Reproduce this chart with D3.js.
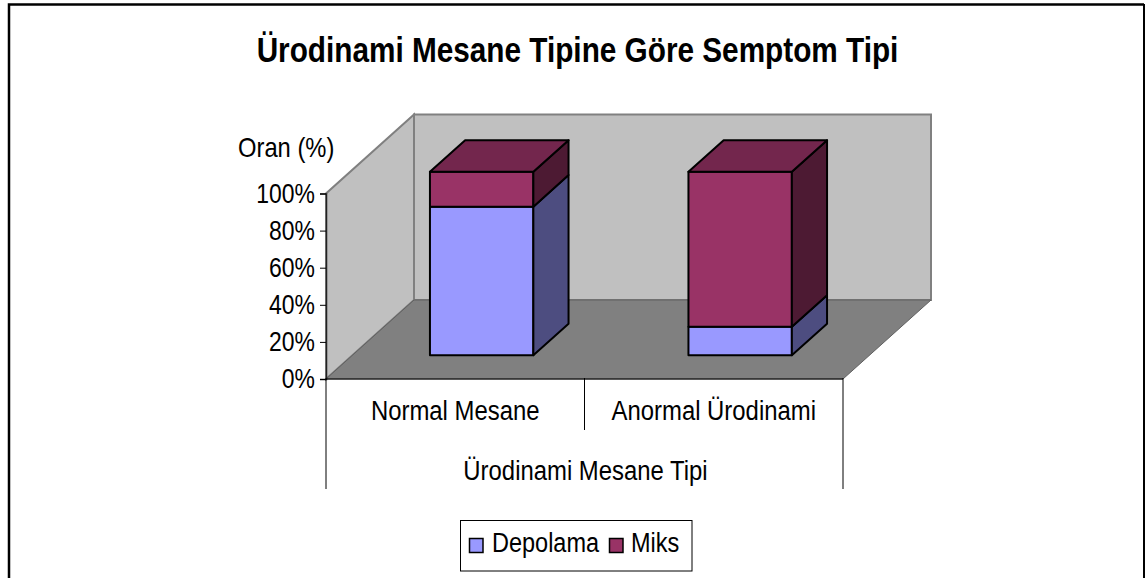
<!DOCTYPE html>
<html>
<head>
<meta charset="utf-8">
<script src="https://cdnjs.cloudflare.com/ajax/libs/d3/7.8.5/d3.min.js"></script>
<style>
  html, body { margin: 0; padding: 0; background: #fff; }
  svg { display: block; }
  text { font-family: "Liberation Sans", Arial, sans-serif; fill: #000; }
</style>
</head>
<body>
<div id="chart"></div>
<script>
var title = "Ürodinami Mesane Tipine Göre Semptom Tipi";
var yTitle = "Oran (%)";
var xTitle = "Ürodinami Mesane Tipi";
var categories = ["Normal Mesane", "Anormal Ürodinami"];
var seriesNames = ["Depolama", "Miks"];
var depolama = [81, 15.5];
var miks = [19, 84.5];
var yTicks = [0, 20, 40, 60, 80, 100];

var colors = {
    Depolama: {front: "#9999FF", side: "#4D4D80", top: "#73739F"},
    Miks: {front: "#993366", side: "#4D1A33", top: "#73264D"}
};

var svg = d3.select("#chart").append("svg")
    .attr("width", 1145)
    .attr("height", 578);

// outer frame, there is no bottom edge in the picture
svg.append("path")
    .attr("d", "M9,578V4.5H1144")
    .attr("fill", "none")
    .attr("stroke", "#000")
    .attr("stroke-width", 2.5);
svg.append("rect").attr("x", 1143).attr("y", 4).attr("width", 2).attr("height", 574).attr("fill", "#000");

var x = d3.scaleLinear().domain([0, 2]).range([326, 843]);
var y = d3.scaleLinear().domain([0, 100]).range([379, 193.5]);
// the bars stop a little under the 100% line in the original
var barY = d3.scaleLinear().domain([0, 100]).range([379, 195.5]);
// depth goes from 0 (front of floor) to 1 (back wall)
var depthX = d3.scaleLinear().domain([0, 1]).range([0, 88]);
var depthY = d3.scaleLinear().domain([0, 1]).range([0, -79]);

function pt(cx, v, d) {
    return [x(cx) + depthX(d), y(v) + depthY(d)];
}
function barPt(cx, v, d) {
    return [x(cx) + depthX(d), barY(v) + depthY(d)];
}
function poly(points) {
    return "M" + points.map(function (p) { return p.join(","); }).join("L") + "Z";
}

function label(px, py, str, size, squeeze, anchor, weight) {
    return svg.append("text")
        .attr("transform", "translate(" + px + "," + py + ") scale(" + squeeze + ",1)")
        .attr("text-anchor", anchor)
        .attr("font-size", size)
        .attr("font-weight", weight || "normal")
        .text(str);
}

// walls and floor
svg.append("path")
    .attr("d", poly([pt(0, 0, 0), pt(0, 100, 0), pt(0, 100, 1), pt(0, 0, 1)]))
    .attr("fill", "#C0C0C0").attr("stroke", "#808080").attr("stroke-width", 2);
svg.append("path")
    .attr("d", poly([pt(0, 0, 1), pt(0, 100, 1), pt(2, 100, 1), pt(2, 0, 1)]))
    .attr("fill", "#C0C0C0").attr("stroke", "#808080").attr("stroke-width", 2);
svg.append("path")
    .attr("d", poly([pt(0, 0, 0), pt(0, 0, 1), pt(2, 0, 1), pt(2, 0, 0)]))
    .attr("fill", "#808080").attr("stroke", "#606060").attr("stroke-width", 1);

// stacked bars, gap width 150% and depth from .3 to .7 of the floor
var barHalf = 0.2;
var stack = d3.stack().keys(seriesNames)
    .value(function (d, key) { return key === "Depolama" ? depolama[d] : miks[d]; })(d3.range(categories.length));

var faces = [];
stack.forEach(function (s) {
    s.forEach(function (seg, i) {
        var l = i + 0.5 - barHalf, r = i + 0.5 + barHalf;
        var lo = seg[0], hi = seg[1];
        faces.push({fill: colors[s.key].front, p: [barPt(l, lo, 0.3), barPt(r, lo, 0.3), barPt(r, hi, 0.3), barPt(l, hi, 0.3)]});
        faces.push({fill: colors[s.key].side, p: [barPt(r, lo, 0.3), barPt(r, lo, 0.7), barPt(r, hi, 0.7), barPt(r, hi, 0.3)]});
        if (hi >= 100) {
            faces.push({fill: colors[s.key].top, p: [barPt(l, hi, 0.3), barPt(r, hi, 0.3), barPt(r, hi, 0.7), barPt(l, hi, 0.7)]});
        }
    });
});

svg.append("g").selectAll("path").data(faces).enter().append("path")
    .attr("d", function (d) { return poly(d.p); })
    .attr("fill", function (d) { return d.fill; })
    .attr("stroke", "#000")
    .attr("stroke-width", 2)
    .attr("stroke-linejoin", "round");

// y axis
var yAxis = d3.axisLeft(y)
    .tickValues(yTicks)
    .tickFormat(function (d) { return d + "%"; })
    .tickSize(6)
    .tickPadding(5);
var gy = svg.append("g").attr("transform", "translate(326,0)").call(yAxis);
gy.select(".domain").attr("stroke", "#222").attr("stroke-width", 1.5);
gy.selectAll(".tick line").attr("stroke", "#000");
gy.selectAll(".tick text").remove();
yTicks.forEach(function (t) {
    label(315, y(t) + 9, t + "%", 27, 0.85, "end");
});

// category boxes below the floor
var lines = [[0, 378, 489], [1, 378, 430], [2, 378, 489]];
lines.forEach(function (l) {
    svg.append("line")
        .attr("x1", x(l[0])).attr("x2", x(l[0]))
        .attr("y1", l[1]).attr("y2", l[2])
        .attr("stroke", "#000").attr("stroke-width", 1);
});
svg.append("line").attr("x1", x(0)).attr("x2", x(2)).attr("y1", 379).attr("y2", 379).attr("stroke", "#000");

categories.forEach(function (c, i) {
    label(x(i + 0.5), 419.5, c, 27, 0.885, "middle");
});
label(585.5, 479.5, xTitle, 27, 0.885, "middle");
label(238, 157, yTitle, 27, 0.88, "start");
label(577.5, 62, title, 35, 0.85, "middle", "bold");

// legend
svg.append("rect")
    .attr("x", 460.5).attr("y", 520.5).attr("width", 231.5).attr("height", 50.5)
    .attr("fill", "#fff").attr("stroke", "#000").attr("stroke-width", 1);
var swatchX = [469.5, 609.5];
var legendTextX = [492, 631];
seriesNames.forEach(function (n, i) {
    svg.append("rect")
        .attr("x", swatchX[i]).attr("y", 538.5).attr("width", 13.5).attr("height", 14)
        .attr("fill", colors[n].front).attr("stroke", "#000").attr("stroke-width", 1.5);
    label(legendTextX[i], 552, n, 27, 0.87, "start");
});
</script>
</body>
</html>
